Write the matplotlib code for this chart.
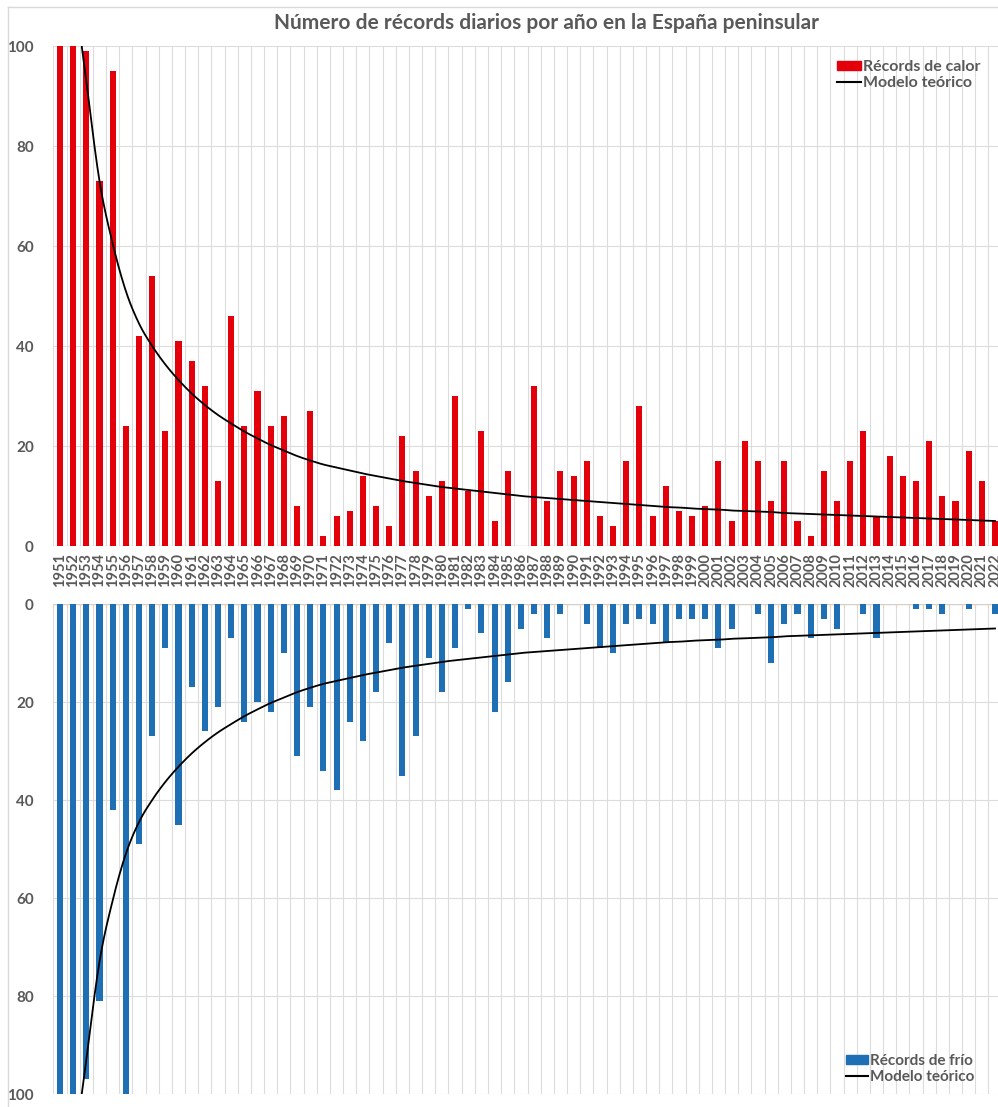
import numpy as np
import matplotlib
matplotlib.use("Agg")
import matplotlib.pyplot as plt
from matplotlib.patches import Patch
from matplotlib.lines import Line2D

plt.rcParams['font.family'] = ['Lato', 'DejaVu Sans']

# ---------------- data ----------------
years = list(range(1951, 2023))

calor = [100, 100, 99, 73, 95, 24, 42, 54, 23, 41,
         37, 32, 13, 46, 24, 31, 24, 26, 8, 27,
         2, 6, 7, 14, 8, 4, 22, 15, 10, 13,
         30, 11, 23, 5, 15, 0, 32, 9, 15, 14,
         17, 6, 4, 17, 28, 6, 12, 7, 6, 8,
         17, 5, 21, 17, 9, 17, 5, 2, 15, 9,
         17, 23, 6, 18, 14, 13, 21, 10, 9, 19,
         13, 5]

frio = [100, 100, 97, 81, 42, 100, 49, 27, 9, 45,
        17, 26, 21, 7, 24, 20, 22, 10, 31, 21,
        34, 38, 24, 28, 18, 8, 35, 27, 11, 18,
        9, 1, 6, 22, 16, 5, 2, 7, 2, 0,
        4, 9, 10, 4, 3, 4, 8, 3, 3, 3,
        9, 5, 0, 2, 12, 4, 2, 7, 3, 5,
        0, 2, 7, 0, 0, 1, 1, 2, 0, 1,
        0, 2]

modelo = [150, 115, 93, 73, 60.5, 51, 44.5, 40, 36.3, 33.2,
          30.5, 28.2, 26.2, 24.5, 22.9, 21.5, 20.2, 19.1, 18.0, 17.1,
          16.3, 15.7, 15.1, 14.5, 14.0, 13.5, 13.0, 12.6, 12.2, 11.8,
          11.5, 11.2, 10.9, 10.6, 10.3, 10.0, 9.8, 9.6, 9.4, 9.2,
          9.0, 8.8, 8.6, 8.4, 8.2, 8.0, 7.8, 7.7, 7.5, 7.4,
          7.3, 7.1, 7.0, 6.9, 6.8, 6.6, 6.5, 6.4, 6.3, 6.2,
          6.1, 6.0, 5.9, 5.8, 5.7, 5.6, 5.5, 5.4, 5.3, 5.2,
          5.1, 5.0]

yticks = [0, 20, 40, 60, 80, 100]
title = "Número de récords diarios por año en la España peninsular"
lab_calor = "Récords de calor"
lab_frio = "Récords de frío"
lab_modelo = "Modelo teórico"

# ---------------- style ----------------
RED = "#e3000b"
BLUE = "#1f6fb5"
GRID = "#dcdcdc"
TXT = "#595959"


def smooth(xs, ys, n=24):
    """Catmull-Rom rendering of a line through the given points."""
    pts = np.column_stack([xs, ys]).astype(float)
    P = np.vstack([pts[0], pts, pts[-1]])
    t = np.linspace(0, 1, n, endpoint=False)[:, None]
    out = []
    for i in range(1, len(P) - 2):
        p0, p1, p2, p3 = P[i - 1], P[i], P[i + 1], P[i + 2]
        seg = 0.5 * ((2 * p1) + (-p0 + p2) * t
                     + (2 * p0 - 5 * p1 + 4 * p2 - p3) * t ** 2
                     + (-p0 + 3 * p1 - 3 * p2 + p3) * t ** 3)
        out.append(seg)
    out.append(pts[-1:])
    return np.vstack(out)


W, H = 998, 1107
fig = plt.figure(figsize=(W / 100, H / 100), dpi=100)
fig.patch.set_facecolor("white")


def rect(x0, y0, x1, y1):
    return [x0 / W, 1 - y1 / H, (x1 - x0) / W, (y1 - y0) / H]


# chart border
fig.add_artist(Line2D([8 / W, 1], [1 - 7 / H, 1 - 7 / H], color="#d9d9d9", lw=1,
                      transform=fig.transFigure))
fig.add_artist(Line2D([8 / W, 8 / W], [1 - 7 / H, 0], color="#d9d9d9", lw=1,
                      transform=fig.transFigure))

ax1 = fig.add_axes(rect(53.4, 46, 1001.6, 546))
ax2 = fig.add_axes(rect(53.4, 604, 1001.6, 1094))

x = np.arange(len(years))
curve = smooth(x, modelo)

for ax, vals, col in [(ax1, calor, RED), (ax2, frio, BLUE)]:
    ax.set_facecolor("none")
    ax.set_xlim(-0.5, len(years) - 0.5)
    for xb in np.arange(-0.5, len(years), 1.0):
        ax.axvline(xb, color=GRID, lw=0.8, zorder=0)
    for yv in yticks[1:]:
        ax.axhline(yv, color=GRID, lw=0.8, zorder=0)
    ax.bar(x, vals, width=0.46, color=col, zorder=2)
    ax.plot(curve[:, 0], curve[:, 1], color="black", lw=1.3, zorder=3)
    for s in ax.spines.values():
        s.set_visible(False)
    ax.set_yticks(yticks)
    ax.set_yticklabels([str(v) for v in yticks], fontsize=11,
                       fontweight="bold", color=TXT)
    ax.tick_params(axis="y", length=0, pad=14)

ax1.set_ylim(0, 100)
ax2.set_ylim(100, 0)
ax1.axhline(0, color="#d0d0d0", lw=1, zorder=1)
ax2.axhline(0, color="#d0d0d0", lw=1, zorder=1)

ax1.set_xticks(x)
ax1.set_xticklabels([str(y) for y in years], rotation=90, fontsize=10.5,
                    fontweight="bold", color=TXT)
ax1.tick_params(axis="x", length=0, pad=5)
ax2.set_xticks(np.arange(-0.5, len(years), 1.0))
ax2.set_xticklabels([])
ax2.tick_params(axis="x", length=3, color="#f3cfa8", direction="in")
ax2.xaxis.set_ticks_position("top")

fig.text(546 / W, 1 - 23 / H, title, ha="center", va="center",
         fontsize=15, fontweight="bold", color=TXT)

leg1 = ax1.legend(handles=[Patch(color=RED), Line2D([], [], color="black", lw=1.5)],
                  labels=[lab_calor, lab_modelo], loc="upper right",
                  bbox_to_anchor=(988 / W, 1 - 52 / H), bbox_transform=fig.transFigure,
                  frameon=False, fontsize=11.5, handlelength=1.5, handleheight=0.55,
                  handletextpad=0.1, labelspacing=0.15, borderpad=0)
for t in leg1.get_texts():
    t.set_color(TXT)
    t.set_fontweight("bold")

leg2 = ax2.legend(handles=[Patch(color=BLUE), Line2D([], [], color="black", lw=1.5)],
                  labels=[lab_frio, lab_modelo], loc="upper right",
                  bbox_to_anchor=(982 / W, 1 - 1046 / H), bbox_transform=fig.transFigure,
                  frameon=False, fontsize=11, handlelength=1.5, handleheight=0.55,
                  handletextpad=0.1, labelspacing=0.15, borderpad=0)
for t in leg2.get_texts():
    t.set_color(TXT)
    t.set_fontweight("bold")

fig.savefig("out.png", dpi=100, facecolor="white")
